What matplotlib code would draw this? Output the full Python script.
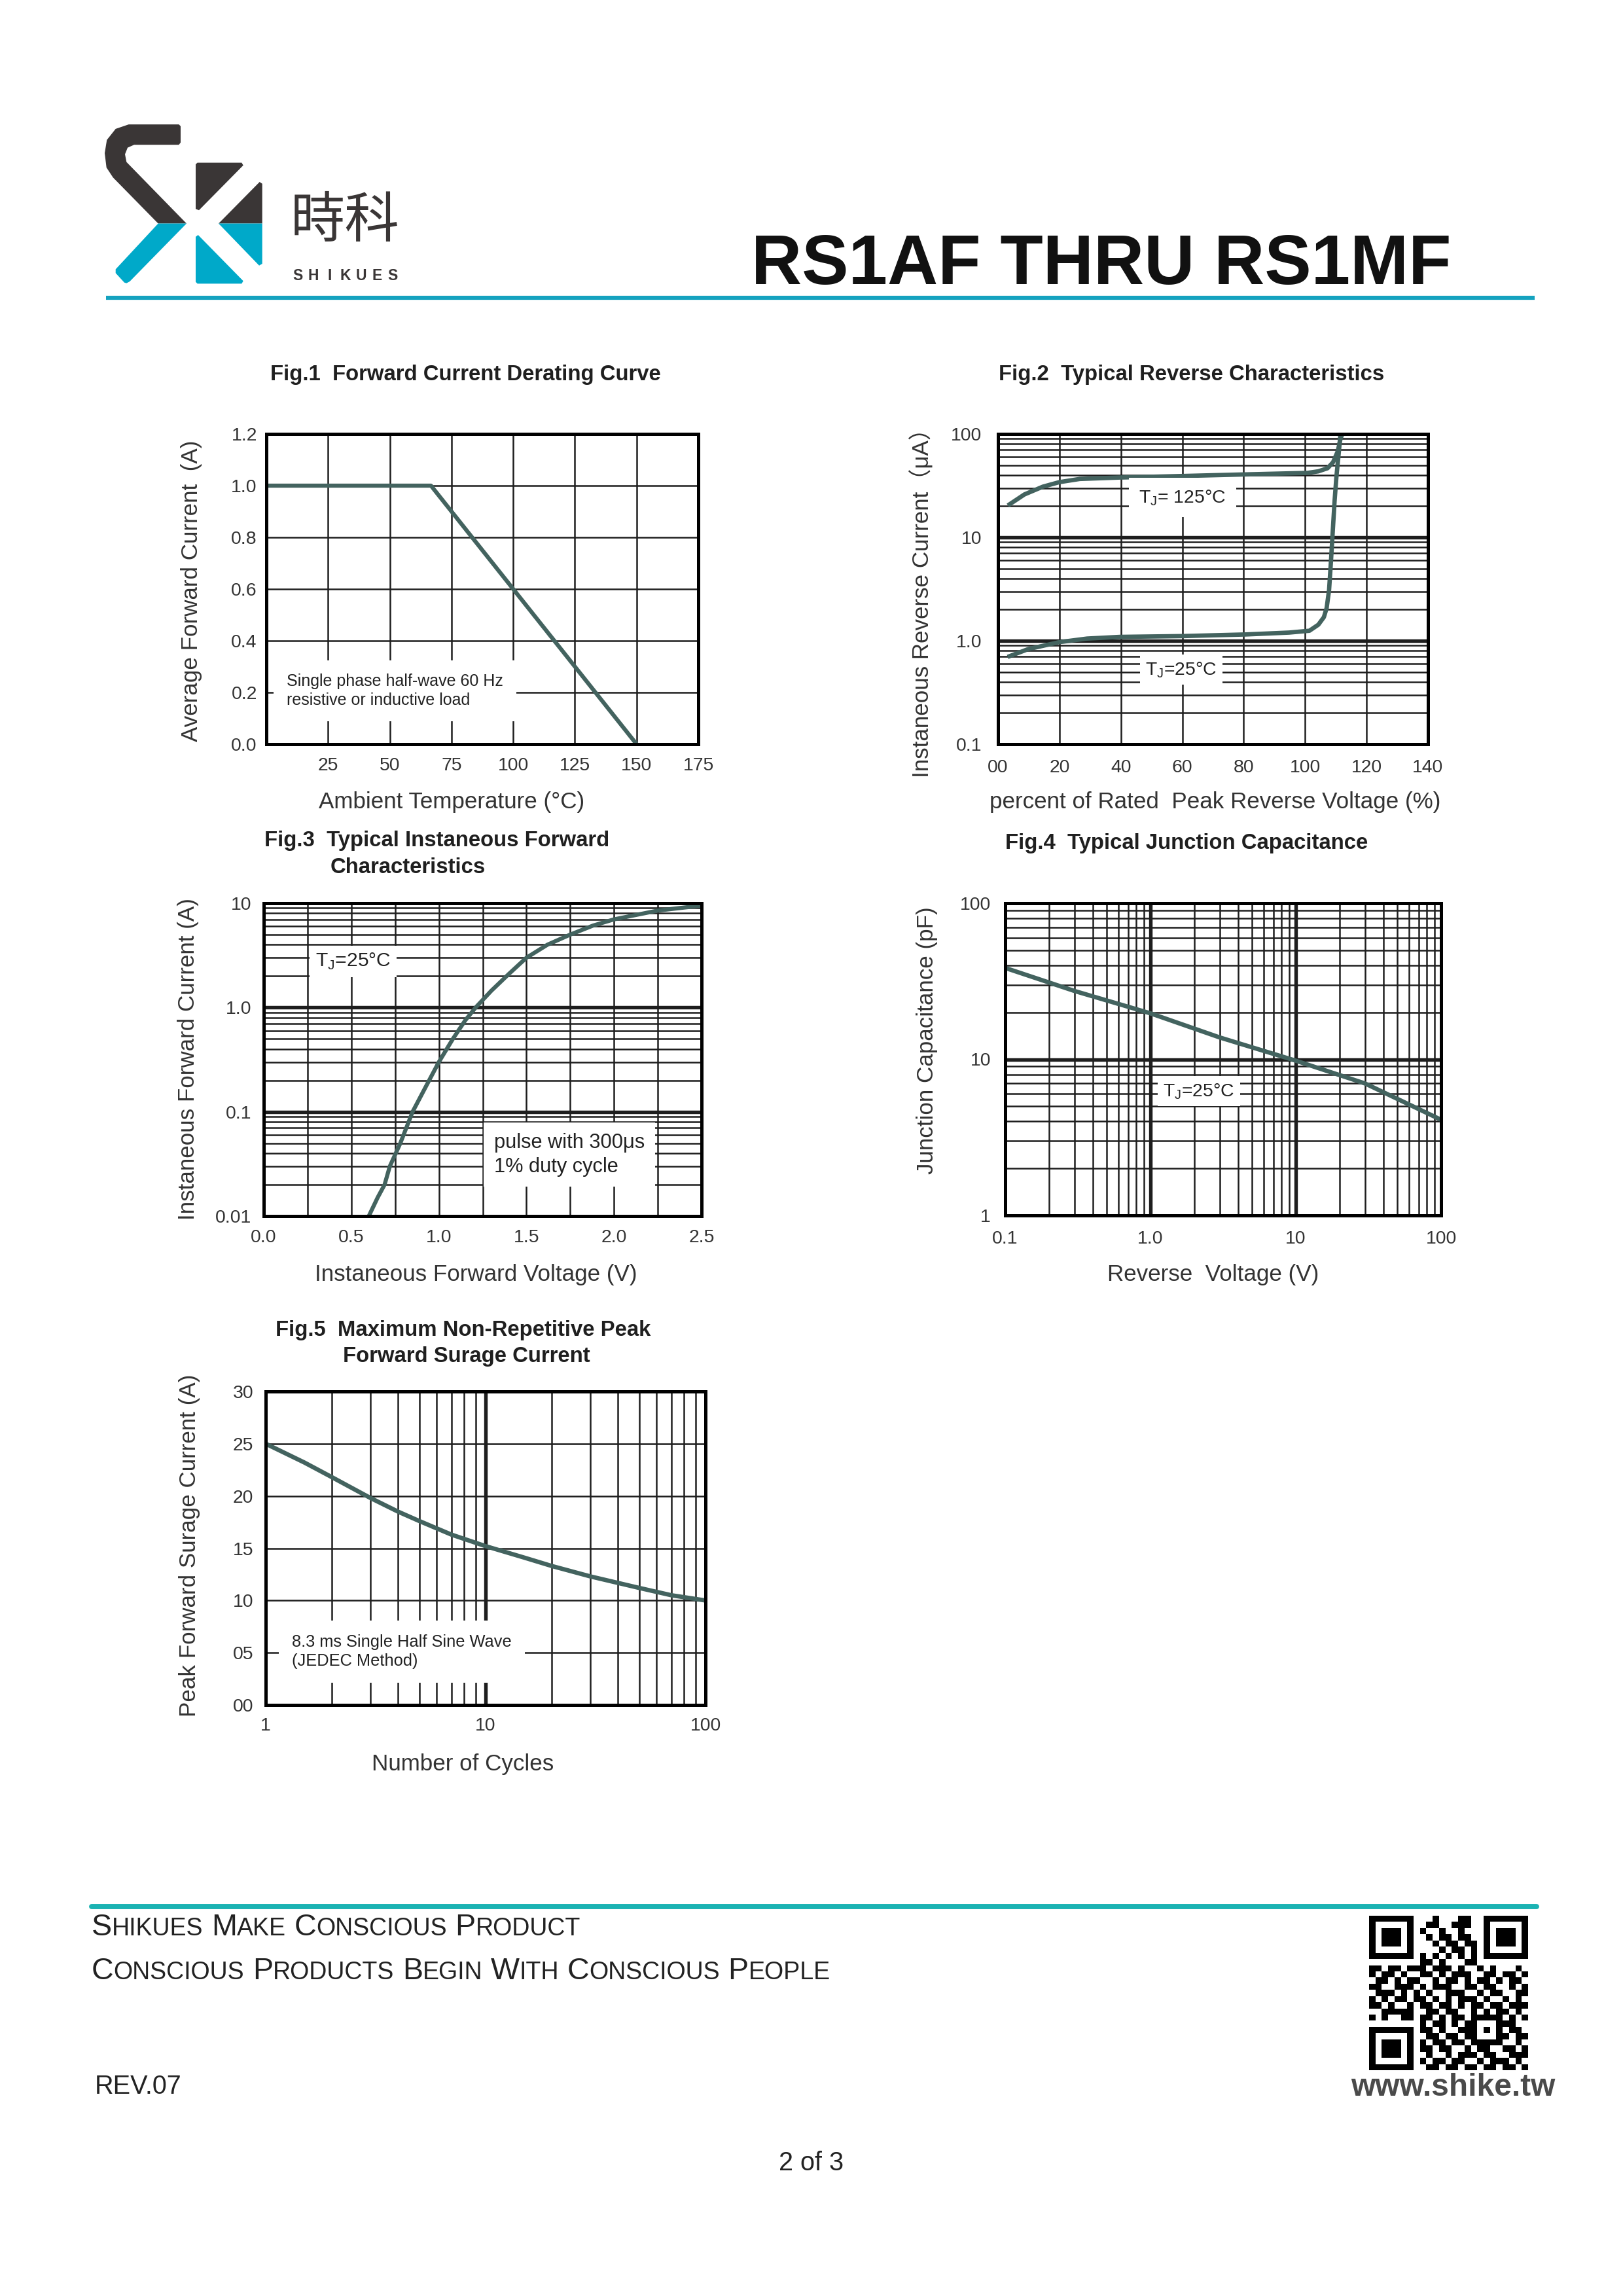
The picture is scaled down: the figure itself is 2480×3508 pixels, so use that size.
import numpy as np
import matplotlib
matplotlib.use("Agg")
import matplotlib.pyplot as plt
from matplotlib.patches import Polygon
from matplotlib.offsetbox import TextArea, HPacker, AnnotationBbox

W, H, DPI = 2480, 3508, 300

plt.rcParams["font.family"] = ["Liberation Sans", "Noto Sans CJK SC", "DejaVu Sans"]

### data ###
# Fig.1 forward current derating
fig1_temp = [1.5, 66.7, 150]
fig1_current = [1.0, 1.0, 0.0]
fig1_xticks = [25, 50, 75, 100, 125, 150, 175]
fig1_yticks = [0.0, 0.2, 0.4, 0.6, 0.8, 1.0, 1.2]

# Fig.2 reverse characteristics
fig2_v125 = [3.8, 8.6, 14.6, 20, 26.6, 39.7, 60.1, 80.4, 100.8, 104.3, 107.3, 109.1, 110.6, 111.5, 112.1]
fig2_i125 = [20.9, 26, 30.9, 34.2, 36.7, 37.9, 39.2, 40.6, 42.0, 43.5, 46.6, 53.3, 67.7, 89, 100]
fig2_v25 = [3.8, 9.8, 20, 29, 39.7, 60.1, 80.4, 94.8, 101.4, 104.3, 106.1, 107.0, 107.8, 108.4, 109.0, 109.6, 110.2, 111.0, 111.5]
fig2_i25 = [0.71, 0.83, 0.97, 1.05, 1.09, 1.11, 1.15, 1.2, 1.25, 1.43, 1.69, 2.07, 3.1, 5.8, 11.5, 22.7, 39, 68, 100]
fig2_xticks = [0, 20, 40, 60, 80, 100, 120, 140]
fig2_xlabels = ["00", "20", "40", "60", "80", "100", "120", "140"]
fig2_yticks = [0.1, 1, 10, 100]
fig2_ylabels = ["0.1", "1.0", "10", "100"]

# Fig.3 forward characteristics
fig3_vf = [0.6, 0.65, 0.69, 0.72, 0.78, 0.85, 0.93, 1.0, 1.08, 1.15, 1.21, 1.3, 1.4, 1.5, 1.62, 1.75, 1.88, 2.0, 2.25, 2.5]
fig3_if = [0.01, 0.015, 0.02, 0.03, 0.05, 0.1, 0.18, 0.3, 0.5, 0.75, 1.0, 1.45, 2.1, 3.0, 4.0, 5.0, 6.1, 7.0, 8.5, 9.5]
fig3_xticks = [0.0, 0.5, 1.0, 1.5, 2.0, 2.5]
fig3_xgrid = [0.25, 0.5, 0.75, 1.0, 1.25, 1.5, 1.75, 2.0, 2.25]
fig3_yticks = [0.01, 0.1, 1, 10]
fig3_ylabels = ["0.01", "0.1", "1.0", "10"]

# Fig.4 junction capacitance
fig4_vr = [0.1, 0.3, 1, 3, 10, 30, 100]
fig4_cj = [38.5, 27.4, 19.7, 13.8, 9.8, 7.0, 4.1]
fig4_xticks = [0.1, 1, 10, 100]
fig4_xlabels = ["0.1", "1.0", "10", "100"]
fig4_yticks = [1, 10, 100]
fig4_ylabels = ["1", "10", "100"]

# Fig.5 surge current
fig5_cycles = [1, 1.5, 2, 3, 4, 5, 7, 10, 15, 20, 30, 50, 70, 100]
fig5_ifsm = [25, 23.2, 21.8, 19.8, 18.5, 17.6, 16.3, 15.2, 14.1, 13.3, 12.3, 11.2, 10.5, 10.0]
fig5_xticks = [1, 10, 100]
fig5_yticks = [0, 5, 10, 15, 20, 25, 30]
fig5_ylabels = ["00", "05", "10", "15", "20", "25", "30"]

qr_rows = [
    "1111111" "0" "001000110" "0" "1111111",
    "1000001" "0" "011001110" "0" "1000001",
    "1011101" "0" "100100100" "0" "1011101",
    "1011101" "0" "010110110" "0" "1011101",
    "1011101" "0" "001011011" "0" "1011101",
    "1000001" "0" "000101101" "0" "1000001",
    "1111111" "0" "101010101" "0" "1111111",
    "0000000" "0" "110100011" "0" "0000000",
    "11011" "01110" "11101" "00101" "00010",
    "10110" "10011" "01011" "10011" "01101",
    "01101" "01100" "10110" "10110" "10110",
    "11001" "11010" "11100" "11011" "00101",
    "01110" "10101" "00111" "00101" "10011",
    "10101" "10110" "10101" "11010" "01010",
    "11010" "01011" "01101" "01101" "10111",
    "00111" "11001" "10110" "01010" "11010",
    "1010011011010110" "11111" "0101",
    "00000000" "10110101" "10001" "1100",
    "1111111" "0" "11010011" "10101" "0110",
    "1000001" "0" "01101101" "10001" "1011",
    "1011101" "0" "10110110" "11111" "0010",
    "1011101" "0" "11011001" "01100" "1101",
    "1011101" "0" "01001011" "10110" "0111",
    "1000001" "0" "10110110" "01011" "1010",
    "1111111" "0" "01101101" "10110" "1101",
]

CURVE = "#43635f"
GRID = "#1e1e1e"
DARK = "#3a3636"
BLUE = "#00a9c9"

fig = plt.figure(figsize=(W / DPI, H / DPI), dpi=DPI)
page = fig.add_axes([0, 0, 1, 1])
page.axis("off")


def place(l, t, r, b):
    return fig.add_axes([l / W, 1 - b / H, (r - l) / W, (b - t) / H])


def style(ax, xpad, ypad):
    ax.minorticks_off()
    ax.tick_params(which="both", length=0, labelsize=6.8, labelcolor="#333333")
    ax.tick_params(axis="x", pad=xpad)
    ax.tick_params(axis="y", pad=ypad)
    for s in ax.spines.values():
        s.set_linewidth(1.2)
        s.set_color("black")
        s.set_zorder(5)


def grid(ax, xs, ys, lw=0.6):
    for x in xs:
        ax.axvline(x, color=GRID, lw=lw, zorder=1)
    for y in ys:
        ax.axhline(y, color=GRID, lw=lw, zorder=1)


def log_minor(lo, hi):
    out = []
    e = lo
    while e < hi:
        out += [m * 10.0 ** e for m in range(2, 10)]
        e += 1
    return out


def note(ax, fx, fy, s, size, ha="left", pad=0.5):
    ax.text(fx, fy, s, transform=ax.transAxes, fontsize=size, ha=ha, va="center",
            color="#222222", linespacing=1.3, zorder=4,
            bbox=dict(boxstyle="square,pad=%s" % pad, fc="white", ec="none"))


def ptext(x, y, s, size, **kw):
    kw.setdefault("ha", "left")
    kw.setdefault("va", "center")
    kw.setdefault("color", "#1f1f1f")
    page.text(x, y, s, fontsize=size, **kw)


TJ = r"T$_\mathregular{J}$"

### Fig.1 ###
ax1 = place(407, 663, 1067, 1137)
ax1.plot(fig1_temp, fig1_current, color=CURVE, lw=1.5, zorder=3)
ax1.set_xlim(0, 175)
ax1.set_ylim(0, 1.2)
ax1.set_xticks(fig1_xticks)
ax1.set_xticklabels([str(t) for t in fig1_xticks])
ax1.set_yticks(fig1_yticks)
ax1.set_yticklabels(["%.1f" % t for t in fig1_yticks])
grid(ax1, fig1_xticks[:-1], fig1_yticks[1:-1])
style(ax1, 4.7, 3.4)
note(ax1, 0.047, 0.172, "Single phase half-wave 60 Hz\nresistive or inductive load", 6.0, pad=0.8)

### Fig.2 ###
ax2 = place(1525, 663, 2182, 1137)
ax2.set_yscale("log")
ax2.plot(fig2_v125, fig2_i125, color=CURVE, lw=1.6, zorder=3)
ax2.plot(fig2_v25, fig2_i25, color=CURVE, lw=1.6, zorder=3)
ax2.set_xlim(0, 140)
ax2.set_ylim(0.1, 100)
ax2.set_xticks(fig2_xticks)
ax2.set_xticklabels(fig2_xlabels)
ax2.set_yticks(fig2_yticks)
ax2.set_yticklabels(fig2_ylabels)
grid(ax2, fig2_xticks[1:-1], log_minor(-1, 2))
grid(ax2, [], fig2_yticks[1:-1], lw=1.3)
style(ax2, 5.4, 6)
note(ax2, 0.429, 0.795, TJ + "= 125°C", 6.8, ha="center", pad=0.55)
note(ax2, 0.426, 0.240, TJ + "=25°C", 6.8, ha="center", pad=0.3)

### Fig.3 ###
ax3 = place(403, 1380, 1072, 1858)
ax3.set_yscale("log")
ax3.plot(fig3_vf, fig3_if, color=CURVE, lw=1.5, zorder=3)
ax3.set_xlim(0, 2.5)
ax3.set_ylim(0.01, 10)
ax3.set_xticks(fig3_xticks)
ax3.set_xticklabels(["%.1f" % t for t in fig3_xticks])
ax3.set_yticks(fig3_yticks)
ax3.set_yticklabels(fig3_ylabels)
grid(ax3, fig3_xgrid, log_minor(-2, 1))
grid(ax3, [], fig3_yticks[1:-1], lw=1.3)
style(ax3, 4.9, 4.5)
note(ax3, 0.118, 0.813, TJ + "=25°C", 7.2, pad=0.3)
note(ax3, 0.526, 0.196, "pulse with 300μs\n1% duty cycle", 7.4, pad=0.5)

### Fig.4 ###
ax4 = place(1536, 1380, 2202, 1857)
ax4.set_xscale("log")
ax4.set_yscale("log")
ax4.plot(fig4_vr, fig4_cj, color=CURVE, lw=1.6, zorder=3)
ax4.set_xlim(0.1, 100)
ax4.set_ylim(1, 100)
ax4.set_xticks(fig4_xticks)
ax4.set_xticklabels(fig4_xlabels)
ax4.set_yticks(fig4_yticks)
ax4.set_yticklabels(fig4_ylabels)
grid(ax4, log_minor(-1, 2), log_minor(0, 2))
grid(ax4, fig4_xticks[1:-1], fig4_yticks[1:-1], lw=1.3)
style(ax4, 5.5, 5.3)
note(ax4, 0.444, 0.398, TJ + "=25°C", 6.8, ha="center", pad=0.3)

### Fig.5 ###
ax5 = place(406, 2126, 1078, 2605)
ax5.set_xscale("log")
ax5.plot(fig5_cycles, fig5_ifsm, color=CURVE, lw=1.6, zorder=3)
ax5.set_xlim(1, 100)
ax5.set_ylim(0, 30)
ax5.set_xticks(fig5_xticks)
ax5.set_xticklabels([str(t) for t in fig5_xticks])
ax5.set_yticks(fig5_yticks)
ax5.set_yticklabels(fig5_ylabels)
grid(ax5, log_minor(0, 2), fig5_yticks[1:-1])
grid(ax5, [10], [], lw=1.3)
style(ax5, 4.6, 4.5)
note(ax5, 0.060, 0.170, "8.3 ms Single Half Sine Wave\n(JEDEC Method)", 6.1, pad=0.8)

### chart titles and axis labels ###
ptext(413, 572, "Fig.1  Forward Current Derating Curve", 7.9, fontweight="bold")
ptext(1526, 572, "Fig.2  Typical Reverse Characteristics", 7.9, fontweight="bold")
ptext(404, 1285, "Fig.3  Typical Instaneous Forward", 7.9, fontweight="bold")
ptext(505, 1325, "Characteristics", 7.9, fontweight="bold")
ptext(1536, 1288, "Fig.4  Typical Junction Capacitance", 7.9, fontweight="bold")
ptext(421, 2033, "Fig.5  Maximum Non-Repetitive Peak", 7.9, fontweight="bold")
ptext(524, 2073, "Forward Surage Current", 7.9, fontweight="bold")

ylab = dict(rotation=90, ha="center", color="#333333")
ptext(292, 903, "Average Forward Current  (A)", 8.4, **ylab)
ptext(1408, 913, "Instaneous Reverse Current（μA）", 8.4, **ylab)
ptext(287, 1618, "Instaneous Forward Current (A)", 8.4, **ylab)
ptext(1416, 1590, "Junction Capacitance (pF)", 8.4, **ylab)
ptext(289, 2361, "Peak Forward Surage Current (A)", 8.4, **ylab)

xlab = dict(ha="center", color="#333333")
ptext(690, 1226, "Ambient Temperature (°C)", 8.4, **xlab)
ptext(1857, 1226, "percent of Rated  Peak Reverse Voltage (%)", 8.4, **xlab)
ptext(727, 1948, "Instaneous Forward Voltage (V)", 8.4, **xlab)
ptext(1854, 1948, "Reverse  Voltage (V)", 8.4, **xlab)
ptext(707, 2696, "Number of Cycles", 8.4, **xlab)

### header ###
logo_dark = [
    [(273.3, 190.1), (276, 192.8), (276, 217.8), (273.3, 221.2), (205, 221.2), (195, 225.6),
     (191, 235.7), (193.3, 247.6), (285, 341.5), (241.7, 341.5), (172.7, 271.2), (162.7, 256),
     (160, 234), (163.3, 213.8), (176.7, 196.9), (196.7, 190.1)],
    [(299, 251), (301.7, 248.6), (369.3, 248.6), (371.7, 252.6), (304, 321.2), (299, 319.2)],
    [(334, 341.5), (396.7, 278), (400.7, 280.7), (400.7, 341.5)],
]
logo_blue = [
    [(241.7, 341.5), (285, 341.5), (198.3, 430), (193.3, 432.7), (190, 431.7), (176.7, 417.2),
     (176.7, 411.4)],
    [(334, 341.5), (400.7, 341.5), (400.7, 403), (396, 405.7)],
    [(299, 361.8), (302.7, 359), (371.7, 429.3), (369.3, 433.4), (301.7, 433.4), (299, 430.7)],
]
for pts in logo_dark:
    page.add_patch(Polygon(pts, closed=True, fc=DARK, ec="none"))
for pts in logo_blue:
    page.add_patch(Polygon(pts, closed=True, fc=BLUE, ec="none"))

page.text(444, 338, "時科", fontsize=20, color=DARK, ha="left", va="center",
          family=["Noto Sans CJK TC", "DejaVu Sans"])
for i, ch in enumerate("SHIKUES"):
    page.text(455 + i * 24.2, 421, ch, fontsize=5.5, fontweight="bold", color=DARK,
              ha="center", va="center")

page.text(1148, 434, "RS1AF THRU RS1MF", fontsize=25.7, fontweight="bold", color="#111111",
          ha="left", va="baseline")
page.plot([162, 2345], [455, 455], color="#14a2bf", lw=1.5, solid_capstyle="butt")

### footer ###
page.plot([140, 2348], [2913, 2913], color="#1bb3b3", lw=1.9, solid_capstyle="round")


def small_caps(x, y, text, big, small):
    words = []
    for w in text.split(" "):
        props = dict(color="#222222")
        parts = [TextArea(w[0], textprops=dict(fontsize=big, **props))]
        if len(w) > 1:
            parts.append(TextArea(w[1:].upper(), textprops=dict(fontsize=small, **props)))
        words.append(HPacker(children=parts, align="baseline", pad=0, sep=0))
    line = HPacker(children=words, align="baseline", pad=0, sep=3.0)
    page.add_artist(AnnotationBbox(line, (x, y), xycoords="data", box_alignment=(0, 0.5),
                                   frameon=False, pad=0))


small_caps(140, 2945, "Shikues Make Conscious Product", 11.2, 9.0)
small_caps(140, 3012, "Conscious Products Begin With Conscious People", 11.2, 9.0)

page.text(145, 3188, "REV.07", fontsize=9.5, color="#222222", ha="left", va="center")
page.text(1240, 3305, "2 of 3", fontsize=9.5, color="#222222", ha="center", va="center")

qr = np.array([[int(c) for c in row] for row in qr_rows])
page.imshow(qr, cmap="gray_r", vmin=0, vmax=1, extent=[2092, 2335, 3163, 2927],
            interpolation="nearest", aspect="auto", zorder=2)
page.text(2220, 3190, "www.shike.tw", fontsize=11.5, fontweight="bold", color="#4a4a4a",
          ha="center", va="center")

page.set_xlim(0, W)
page.set_ylim(H, 0)

fig.savefig("out.png", dpi=DPI)
